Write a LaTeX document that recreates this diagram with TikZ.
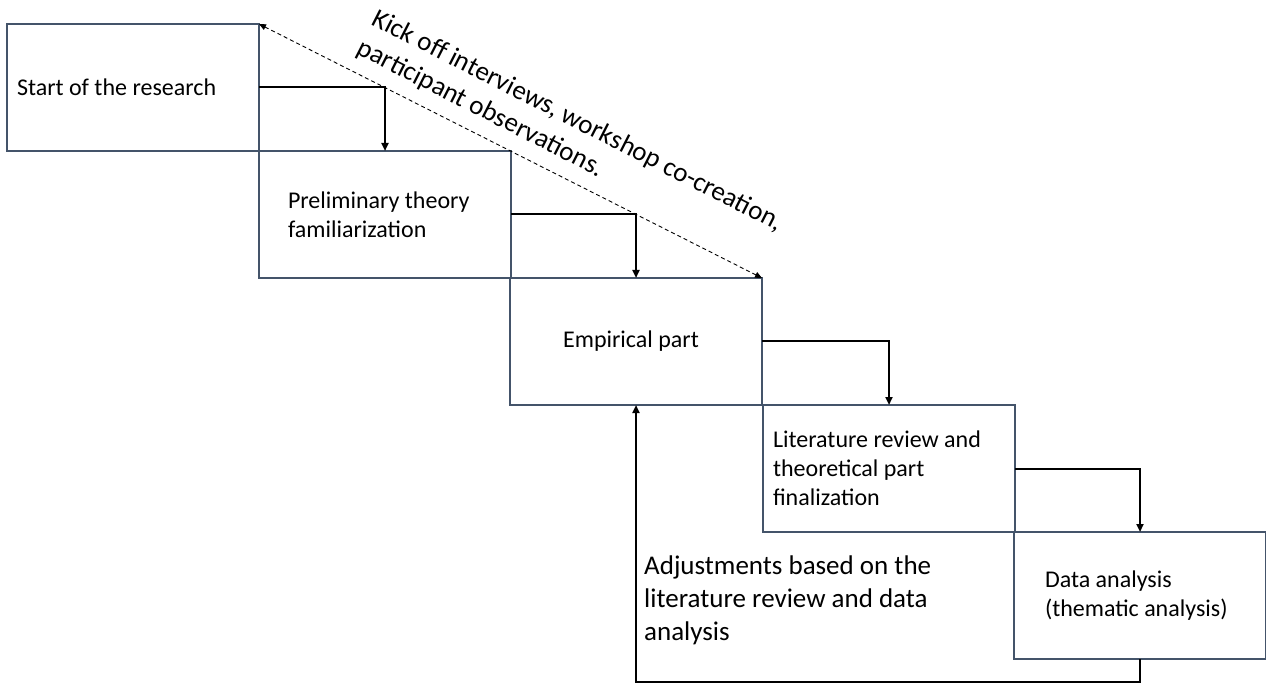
\documentclass[tikz,border=0pt]{standalone}
\usepackage{fontspec}
\setmainfont{Carlito}
\usetikzlibrary{arrows.meta}
\definecolor{boxline}{HTML}{44546A}
\begin{document}
\begin{tikzpicture}[x=1pt,y=-1pt,
  stage/.style={draw=boxline, line width=1.2pt, rectangle, minimum width=252pt,
    minimum height=127pt, anchor=north west, inner ysep=0pt, outer sep=0pt,
    font=\fontsize{24}{29}\selectfont},
  flow/.style={draw=black, line width=2pt, -{Triangle[length=8pt,width=7pt]}},
  kickline/.style={draw=black, line width=0.9pt, dash pattern=on 4pt off 3pt,
    {Triangle[length=7pt,width=6pt]}-{Triangle[length=7pt,width=6pt]}},
  bignote/.style={font=\fontsize{27}{33}\selectfont, align=flush left, inner sep=0pt}]
\useasboundingbox (0,0) rectangle (1266,684);
\fill[white] (0,0) rectangle (1266,684);

\node[stage, inner xsep=10pt, text width=232pt, align=flush left] (s1) at (7,24) {Start of the research};
\node[stage, inner xsep=29pt, text width=194pt, align=flush left] (s2) at (259,151) {Preliminary theory\\familiarization};
\node[stage, inner xsep=10pt, text width=232pt, align=flush center] (s3) at (510,278) {\hspace*{-10pt}Empirical part};
\node[stage, inner xsep=10pt, text width=232pt, align=flush left] (s4) at (763,405) {Literature review and\\theoretical part\\finalization};
\node[stage, inner xsep=31pt, text width=190pt, align=flush left] (s5) at (1014,532) {Data analysis\\(thematic analysis)};

\draw[flow] (s1.east) -| (s2.north);
\draw[flow] (s2.east) -| (s3.north);
\draw[flow] (s3.east) -| (s4.north);
\draw[flow] (s4.east) -| (s5.north);

\coordinate (fb) at (0,682);
\draw[flow] (s5.south) -- (s5.south |- fb) -| (s3.south);

\draw[kickline] (s3.north east) -- (s1.north east);

\node[bignote, rotate=-27] (kick) at (570,136) {Kick off interviews, workshop co-creation,\\participant observations.};
\node[bignote, anchor=west] (adj) at (644,600) {Adjustments based on the\\literature review and data\\analysis};
\end{tikzpicture}
\end{document}
